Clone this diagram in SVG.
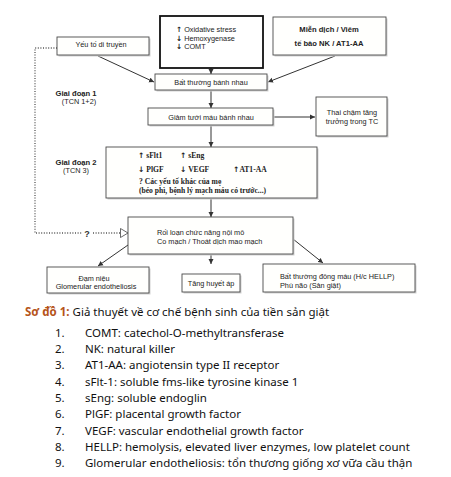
<svg xmlns="http://www.w3.org/2000/svg" width="451" height="477" viewBox="0 0 451 477">
<style>
.bx{fill:#fffffd;stroke:#4a4a4a;stroke-width:0.9}
.sh{fill:#d2d2d2}
.t{font-family:"Liberation Sans",Arial,sans-serif;font-size:7.3px;fill:#222}
.tb{font-family:"Liberation Sans",Arial,sans-serif;font-size:7.6px;font-weight:bold;fill:#222}
.ts{font-family:"Liberation Serif","Times New Roman",serif;font-size:7.6px;font-weight:bold;fill:#222}
.ar{font-family:"DejaVu Sans",sans-serif;font-weight:bold}
.c{text-anchor:middle}
.ln{stroke:#333;stroke-width:1;fill:none}
.dot{stroke:#555;stroke-width:1.3;fill:none;stroke-dasharray:1 1.6}
.cap{font-family:"Noto Sans","Open Sans",sans-serif;font-size:11.5px;fill:#111}
</style>
<defs>
<marker id="ah" markerWidth="6" markerHeight="6" refX="5" refY="3" orient="auto" markerUnits="userSpaceOnUse">
<path d="M0,0.5 L5,3 L0,5.5 Z" fill="#333"/>
</marker>
</defs>
<rect width="451" height="477" fill="#ffffff"/>

<g id="connectors">
<line class="ln" x1="211" y1="68" x2="211" y2="74" marker-end="url(#ah)"/>
<line class="ln" x1="98" y1="56" x2="154" y2="82" marker-end="url(#ah)"/>
<line class="ln" x1="335" y1="56" x2="268" y2="82" marker-end="url(#ah)"/>
<line class="ln" x1="211" y1="90" x2="211" y2="108" marker-end="url(#ah)"/>
<line class="ln" x1="273" y1="117" x2="315" y2="117" marker-end="url(#ah)"/>
<line class="ln" x1="211" y1="125" x2="211" y2="147" marker-end="url(#ah)"/>
<line class="ln" x1="211" y1="198" x2="211" y2="217" marker-end="url(#ah)"/>
<line class="ln" x1="128" y1="245" x2="98" y2="266" marker-end="url(#ah)"/>
<line class="ln" x1="211" y1="254" x2="211" y2="264" marker-end="url(#ah)"/>
<line class="ln" x1="293" y1="239" x2="323" y2="263" marker-end="url(#ah)"/>
<polyline class="dot" points="57,48 35,48 35,233 82,233"/>
<line class="dot" x1="93" y1="233" x2="120" y2="233"/>
<path d="M120.5,228.5 L128,233 L120.5,237.5 Z" fill="#fff" stroke="#444" stroke-width="0.8"/>
<text x="87" y="236.5" class="c" font-family="Liberation Sans,Arial,sans-serif" font-size="9" font-weight="bold" fill="#333">?</text>
</g>

<g id="n-stress">
<rect x="160" y="16" width="103" height="52" fill="#fff" stroke="#111" stroke-width="1.8"/>
<text x="176" y="32" class="t"><tspan class="ar">↑</tspan> Oxidative stress</text>
<text x="176" y="40.5" class="t"><tspan class="ar">↓</tspan> Hemoxygenase</text>
<text x="176" y="49" class="t"><tspan class="ar">↓</tspan> COMT</text>
</g>

<g id="n-mien-dich">
<rect class="sh" x="274.5" y="18.5" width="113" height="38"/>
<rect class="bx" x="273" y="17" width="113" height="38"/>
<text x="329" y="31.5" class="tb c" font-size="7.2">Miễn dịch / Viêm</text>
<text x="329" y="45.5" class="tb c" font-size="7.2">tế bào NK / AT1-AA</text>
</g>

<g id="n-di-truyen">
<rect class="sh" x="58.5" y="38.5" width="92" height="18"/>
<rect class="bx" x="57" y="37" width="92" height="18"/>
<text x="101" y="47" class="t c">Yếu tố di truyền</text>
</g>

<g id="n-bat-thuong">
<rect class="sh" x="156.5" y="75.5" width="112" height="16"/>
<rect class="bx" x="155" y="74" width="112" height="16"/>
<text x="211" y="85" class="t c">Bất thường bánh nhau</text>
</g>

<g id="n-giai-doan-1">
<text x="76" y="96" class="tb c">Giai đoạn 1</text>
<text x="79" y="104" class="t c" font-size="6">(TCN 1+2)</text>
</g>

<g id="n-giam-tuoi">
<rect class="sh" x="149.5" y="109.5" width="125" height="17"/>
<rect class="bx" x="148" y="108" width="125" height="17"/>
<text x="211" y="119.5" class="t c">Giảm tưới máu bánh nhau</text>
</g>

<g id="n-thai-cham">
<rect class="sh" x="317.5" y="98.5" width="71" height="39"/>
<rect class="bx" x="316" y="97" width="71" height="39"/>
<text x="352" y="115" class="t c">Thai chậm tăng</text>
<text x="352" y="123.5" class="t c">trưởng trong TC</text>
</g>

<g id="n-giai-doan-2">
<text x="76" y="164.5" class="tb c">Giai đoạn 2</text>
<text x="76" y="173" class="t c" font-size="6">(TCN 3)</text>
</g>

<g id="n-stage2">
<rect class="sh" x="107.5" y="148.5" width="211" height="51"/>
<rect class="bx" x="106" y="147" width="211" height="51"/>
<text x="138" y="158" class="ts"><tspan class="ar">↑</tspan> sFlt1</text>
<text x="180" y="158" class="ts"><tspan class="ar">↑</tspan> sEng</text>
<text x="138" y="172" class="ts"><tspan class="ar">↓</tspan> PlGF</text>
<text x="180" y="172" class="ts"><tspan class="ar">↓</tspan> VEGF</text>
<text x="233" y="172" class="ts"><tspan class="ar">↑</tspan>AT1-AA</text>
<text x="139" y="183.5" class="ts">? Các yếu tố khác của mẹ</text>
<text x="139" y="193" class="ts">(béo phì, bệnh lý mạch máu có trước...)</text>
</g>

<g id="n-roi-loan">
<rect class="sh" x="129.5" y="218.5" width="165" height="37"/>
<rect class="bx" x="128" y="217" width="165" height="37"/>
<text x="157" y="234.5" class="t">Rối loạn chức năng nội mô</text>
<text x="157" y="243.5" class="t">Co mạch / Thoát dịch mao mạch</text>
</g>

<g id="n-dam-nieu">
<rect class="sh" x="48.5" y="268.5" width="102" height="26"/>
<rect class="bx" x="47" y="267" width="102" height="26"/>
<text x="94" y="280.5" class="t c">Đạm niệu</text>
<text x="96" y="289" class="t c">Glomerular endotheliosis</text>
</g>

<g id="n-tang-huyet-ap">
<rect class="sh" x="183.5" y="275.5" width="58" height="18"/>
<rect class="bx" x="182" y="274" width="58" height="18"/>
<text x="211" y="285.5" class="t c">Tăng huyết áp</text>
</g>

<g id="n-dong-mau">
<rect class="sh" x="264.5" y="265.5" width="152" height="28"/>
<rect class="bx" x="263" y="264" width="152" height="28"/>
<text x="280" y="278.5" class="t">Bất thường đông máu (H/c HELLP)</text>
<text x="280" y="287.5" class="t">Phù não (Sản giật)</text>
</g>

<g id="caption">
<text x="25" y="316" class="cap"><tspan font-weight="bold" fill="#b5541a">Sơ đồ 1:</tspan> Giả thuyết về cơ chế bệnh sinh của tiền sản giật</text>
<text class="cap" x="55" y="337">1.</text><text class="cap" x="85" y="337">COMT: catechol-O-methyltransferase</text>
<text class="cap" x="55" y="353">2.</text><text class="cap" x="85" y="353">NK: natural killer</text>
<text class="cap" x="55" y="369">3.</text><text class="cap" x="85" y="369">AT1-AA: angiotensin type II receptor</text>
<text class="cap" x="55" y="385.5">4.</text><text class="cap" x="85" y="385.5">sFlt-1: soluble fms-like tyrosine kinase 1</text>
<text class="cap" x="55" y="402">5.</text><text class="cap" x="85" y="402">sEng:  soluble endoglin</text>
<text class="cap" x="55" y="418">6.</text><text class="cap" x="85" y="418">PlGF: placental growth factor</text>
<text class="cap" x="55" y="434.5">7.</text><text class="cap" x="85" y="434.5">VEGF: vascular endothelial growth factor</text>
<text class="cap" x="55" y="450.5">8.</text><text class="cap" x="85" y="450.5">HELLP: hemolysis, elevated liver enzymes, low platelet count</text>
<text class="cap" x="55" y="466.5">9.</text><text class="cap" x="85" y="466.5">Glomerular endotheliosis: tổn thương giống xơ vữa cầu thận</text>
</g>
</svg>
